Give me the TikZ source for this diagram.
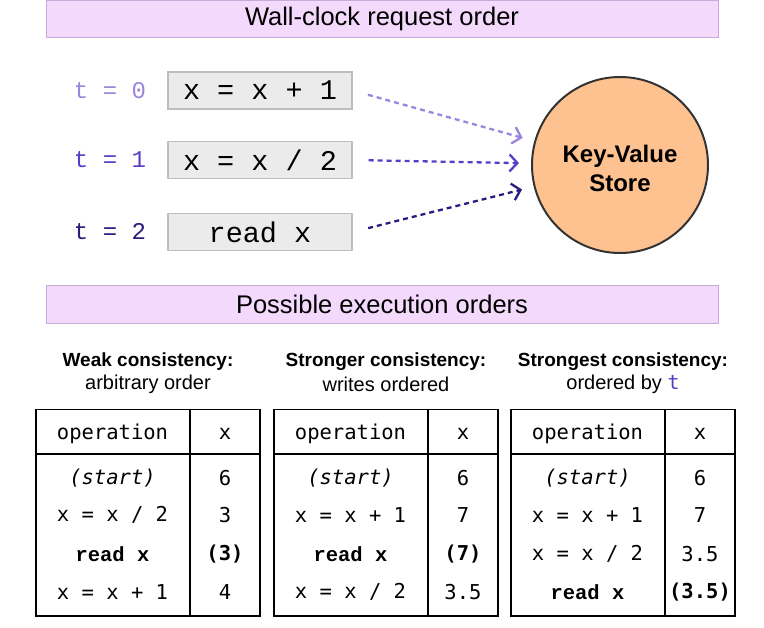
\documentclass[tikz,border=0pt]{standalone}
\usepackage{fontspec}
\setmainfont{Liberation Sans}
\newfontfamily\codefont{Liberation Mono}
\newfontfamily\tablefont{DejaVu Sans Mono}
\usetikzlibrary{arrows.meta,positioning}
\definecolor{bannerfill}{HTML}{F3D9FB}
\definecolor{bannerline}{HTML}{C9A9D9}
\definecolor{opfill}{HTML}{EBEBEB}
\definecolor{opline}{HTML}{BDBDBD}
\definecolor{storefill}{HTML}{FEC190}
\definecolor{tzero}{HTML}{9A86DA}
\definecolor{tone}{HTML}{5A3DC6}
\definecolor{ttwo}{HTML}{2C1B7E}

\begin{document}
\begin{tikzpicture}[x=1pt,y=-1pt,>={Straight Barb[length=8pt,width=17pt]},
  banner/.style={draw=bannerline,fill=bannerfill,minimum width=672pt,minimum height=37pt,
    inner sep=0pt,font=\fontsize{25.5}{30}\selectfont},
  opbox/.style={draw=opline,line width=1.2pt,fill=opfill,minimum width=184pt,minimum height=37pt,
    inner sep=0pt,font=\codefont\fontsize{28.5}{32}\selectfont},
  tlabel/.style={font=\codefont\fontsize{24}{28}\selectfont},
  request/.style={->,dashed,line width=2.3pt,dash pattern=on 5pt off 4pt,shorten <=16pt,shorten >=12pt},
  cell/.style={font=\tablefont\fontsize{20.5}{24}\selectfont,inner sep=0pt},
  every node/.style={text=black}]
\useasboundingbox (0,0) rectangle (764,628);

% requests in wall-clock order
\node[banner] (wall) at (382,18.5) {Wall-clock request order};
\node[opbox] (b0) at (260,90.5) {x = x + 1};
\node[opbox] (b1) at (260,160) {x = x / 2};
\node[opbox] (b2) at (260,232) {read x};
\node[tlabel,text=tzero] (t0) at (110,90.5) {t = 0};
\node[tlabel,text=tone] (t1) at (110,160) {t = 1};
\node[tlabel,text=ttwo] (t2) at (110,232) {t = 2};
\node[circle,draw=black!80,line width=2pt,fill=storefill,minimum size=176pt] (kv) at (620,165) {};
\node[align=center,font=\bfseries\fontsize{24}{29}\selectfont] (kvname) at (620,168.5) {Key-Value\\Store};
\draw[request,tzero] (b0.east) -- (kv);
\draw[request,tone] (b1.east) -- (kv);
\draw[request,ttwo] (b2.east) -- (kv);

% the three possible orders
\node[banner,minimum height=38pt] (orders) at (382,304) {Possible execution orders};
\foreach \i/\tx/\head/\sub/\opa/\vala/\opb/\valb/\opc/\valc in {
  1/35/{Weak consistency:}/{arbitrary order}/{x = x / 2}/3/{\codefont\bfseries read x}/{\bfseries (3)}/{x = x + 1}/4,
  2/273/{Stronger consistency:}/{writes ordered}/{x = x + 1}/7/{\codefont\bfseries read x}/{\bfseries (7)}/{x = x / 2}/3.5,
  3/510/{Strongest consistency:}/{ordered by {\tablefont\color{tone}t}}/{x = x + 1}/7/{x = x / 2}/3.5/{\codefont\bfseries read x}/{\bfseries (3.5)}}
{
  \node[font=\bfseries\fontsize{19}{22}\selectfont] (head\i) at (\tx+113,361.5) {\head};
  \node[font=\fontsize{20}{23}\selectfont] (sub\i) at (\tx+113,384) {\sub};
  \node[draw,line width=1.5pt,minimum width=224pt,minimum height=206pt,anchor=north west,inner sep=0pt] (tab\i) at (\tx,409) {};
  \draw[line width=1.3pt] ([xshift=155pt]tab\i.north west) -- ([xshift=155pt]tab\i.south west);
  \draw[line width=1.3pt] ([yshift=-45pt]tab\i.north west) -- ([yshift=-45pt]tab\i.north east);
  \node[cell] (op\i h) at (\tx+77.5,433.5) {operation};
  \node[cell] (x\i h) at (\tx+190,433.5) {x};
  \node[cell] (op\i s) at (\tx+77.5,478) {\itshape(start)};
  \node[cell] (x\i s) at (\tx+190,478) {6};
  \node[cell] (op\i a) at (\tx+77.5,515) {\opa};
  \node[cell] (x\i a) at (\tx+190,515) {\vala};
  \node[cell] (op\i b) at (\tx+77.5,554) {\opb};
  \node[cell] (x\i b) at (\tx+190,554) {\valb};
  \node[cell] (op\i c) at (\tx+77.5,592) {\opc};
  \node[cell] (x\i c) at (\tx+190,592) {\valc};
}
\end{tikzpicture}
\end{document}
